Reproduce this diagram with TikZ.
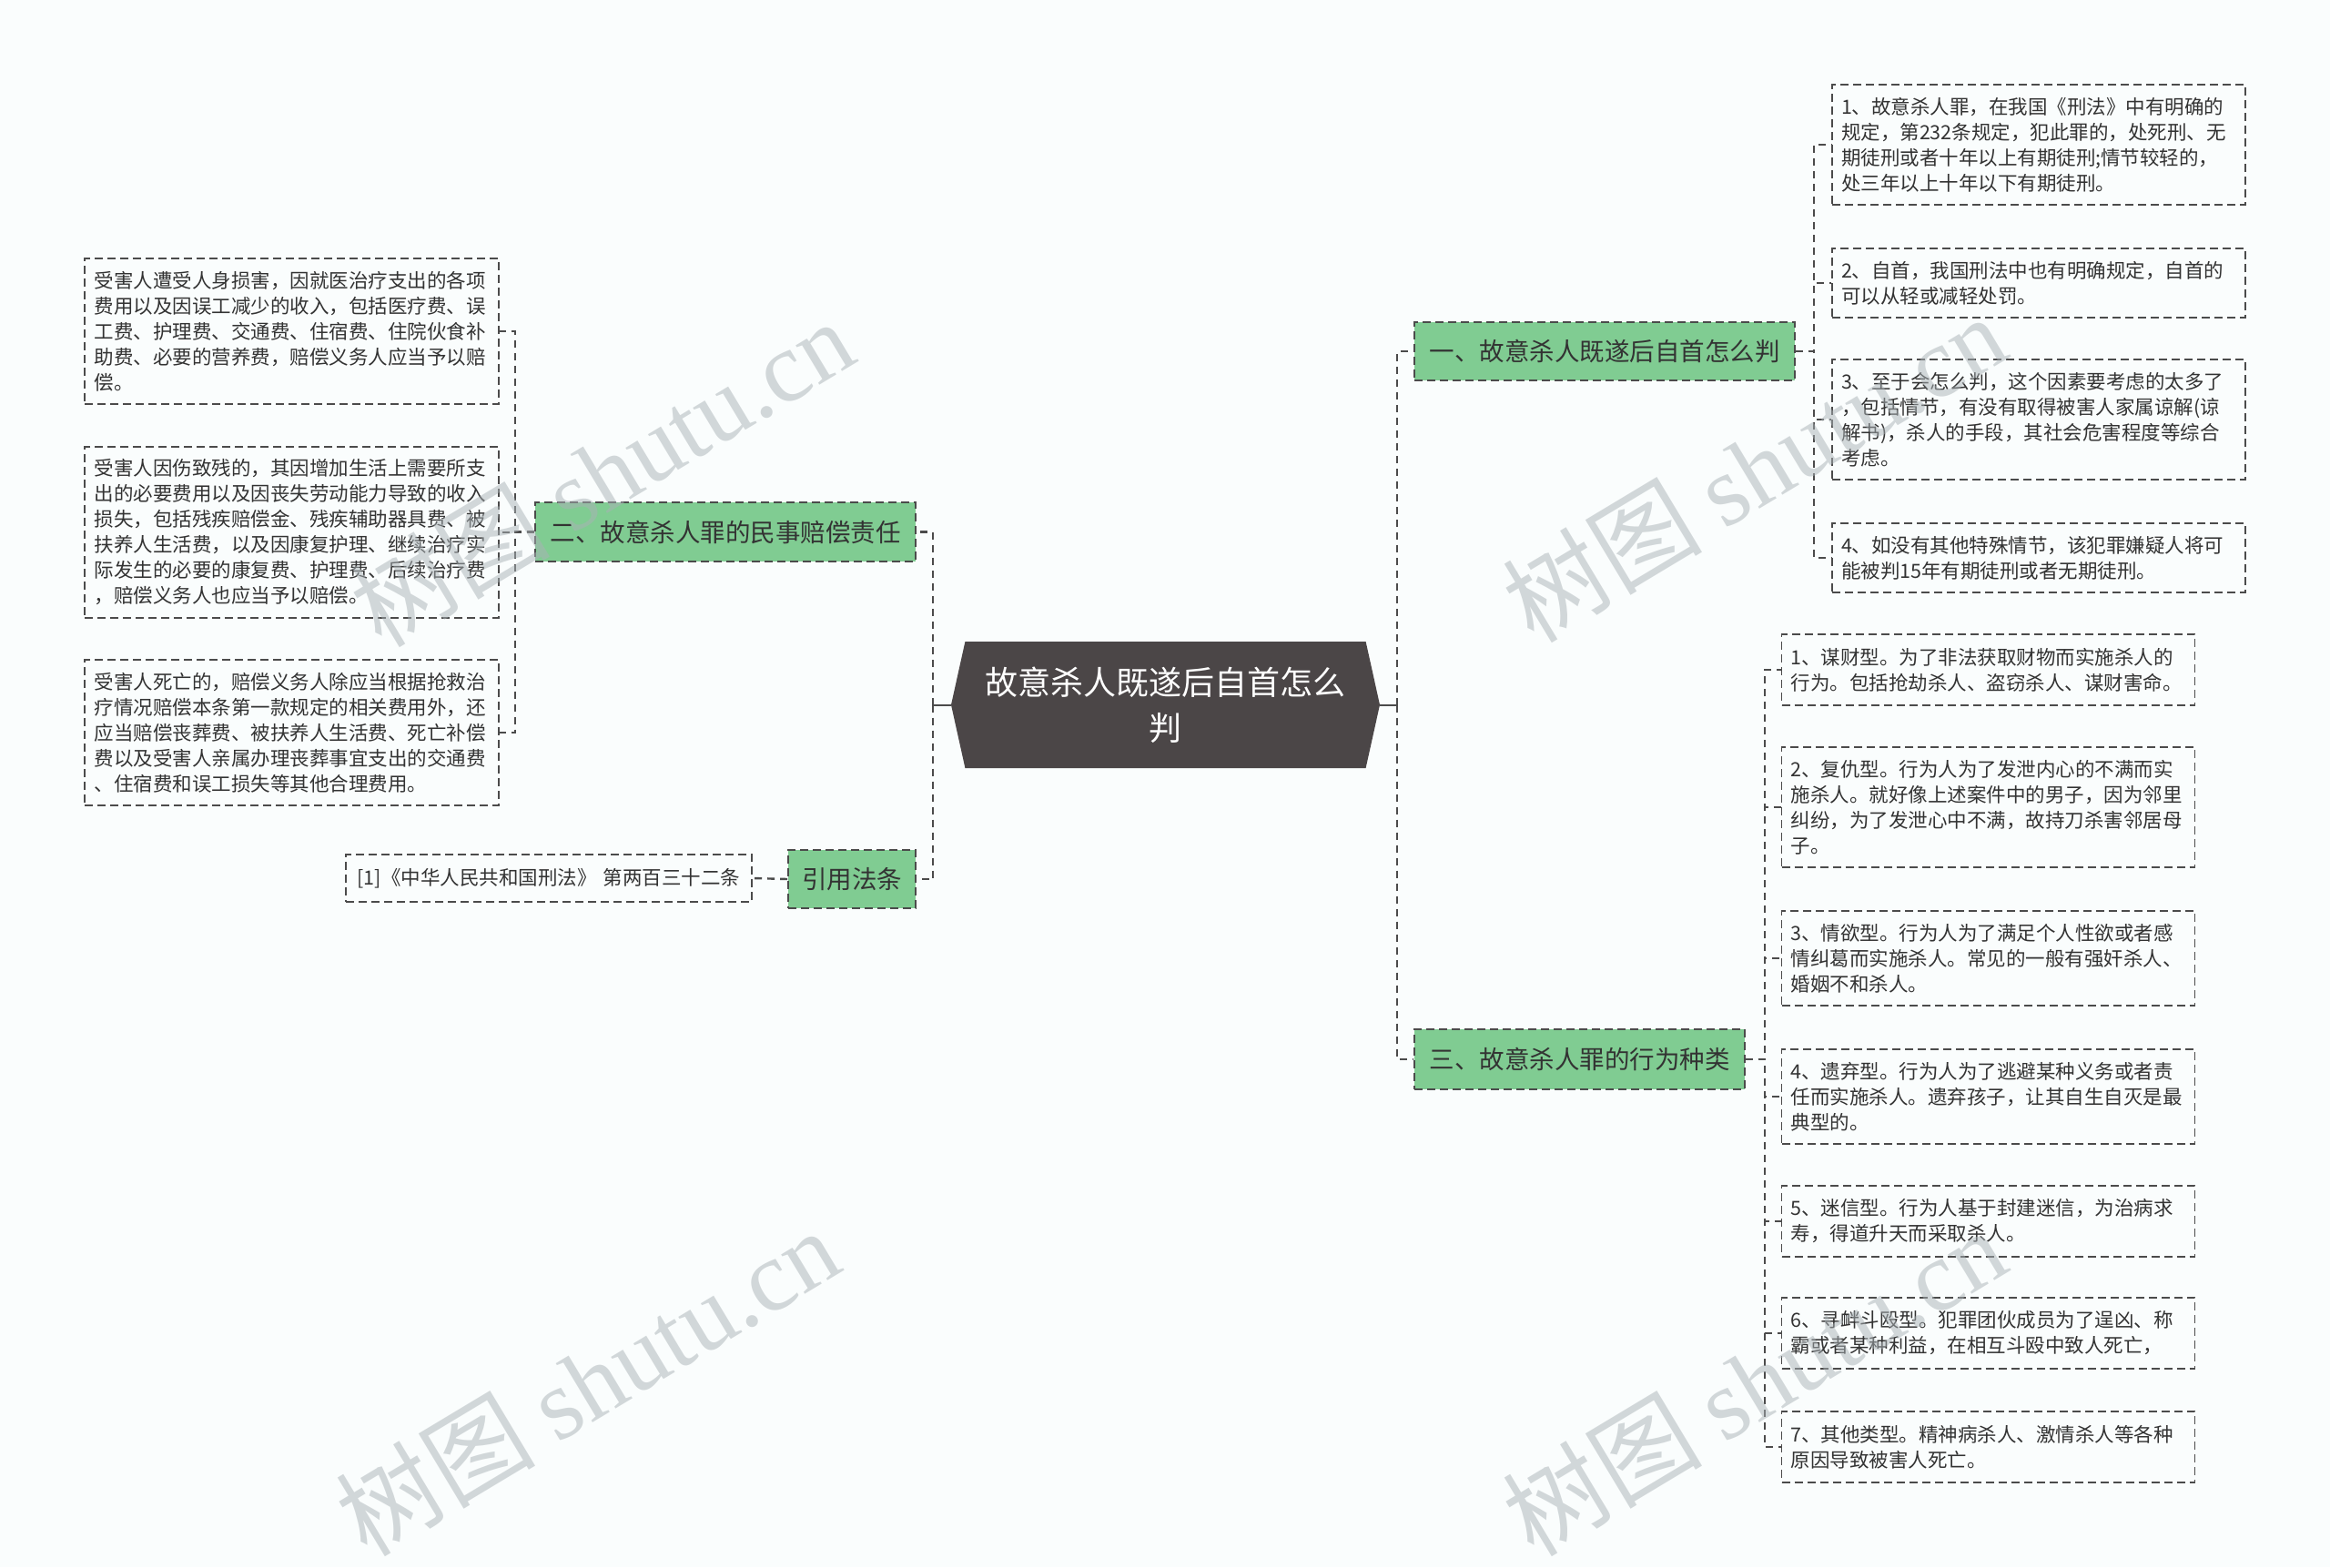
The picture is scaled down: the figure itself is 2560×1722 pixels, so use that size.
\documentclass[tikz,border=0pt]{standalone}
\usepackage{fontspec}
\setmainfont{Noto Sans CJK SC}
\newfontfamily\wmlatin{Liberation Serif}
\usetikzlibrary{shapes.symbols}
\definecolor{bgc}{RGB}{250,253,253}
\definecolor{greenc}{RGB}{128,204,146}
\definecolor{hexc}{RGB}{75,70,71}
\definecolor{linec}{RGB}{75,75,75}
\definecolor{txtc}{RGB}{51,51,51}
\definecolor{wmc}{RGB}{170,178,182}
\begin{document}
\begin{tikzpicture}[x=1pt,y=-1pt,
  conn/.style={draw=linec,line width=2.4pt,dash pattern=on 8pt off 6pt},
  solidconn/.style={draw=linec,line width=2pt},
  leaf/.style={draw=linec,line width=1.6pt,dash pattern=on 9pt off 5pt,text=txtc,
    font=\fontsize{21.5}{28}\selectfont,align=left,text width=434pt,inner xsep=10pt,inner ysep=0pt},
  branch/.style={draw=linec,fill=greenc,line width=1.6pt,dash pattern=on 9pt off 5pt,text=txtc,
    font=\fontsize{27.5}{33}\selectfont,inner sep=0pt},
  wm/.style={rotate=31,text=wmc,text opacity=0.5,font=\fontsize{110}{120}\selectfont,inner sep=0pt}
]
\fill[bgc] (0,0) rectangle (2560,1722);
\useasboundingbox (0,0) rectangle (2560,1722);

% root
\node[signal,signal to=east and west,signal pointer angle=155,fill=hexc,text=white,
  font=\fontsize{36}{50}\selectfont,align=center,minimum width=471pt,minimum height=139pt,inner sep=0pt]
  (root) at (1280.5,774.5) {故意杀人既遂后自首怎么\\判};

% branches
\node[branch,minimum width=418pt,minimum height=64pt] (G1) at (1763,386) {一、故意杀人既遂后自首怎么判};
\node[branch,minimum width=418pt,minimum height=65pt] (G2) at (797,584.5) {二、故意杀人罪的民事赔偿责任};
\node[branch,minimum width=363pt,minimum height=66pt] (G3) at (1735.5,1164) {三、故意杀人罪的行为种类};
\node[branch,minimum width=140pt,minimum height=64pt] (Gc) at (936,966) {引用法条};

% left leaves
\node[leaf,minimum width=455pt,minimum height=160pt] (L1) at (320.5,364) {受害人遭受人身损害，因就医治疗支出的各项\\费用以及因误工减少的收入，包括医疗费、误\\工费、护理费、交通费、住宿费、住院伙食补\\助费、必要的营养费，赔偿义务人应当予以赔\\偿。};
\node[leaf,minimum width=455pt,minimum height=188pt] (L2) at (320.5,585) {受害人因伤致残的，其因增加生活上需要所支\\出的必要费用以及因丧失劳动能力导致的收入\\损失，包括残疾赔偿金、残疾辅助器具费、被\\扶养人生活费，以及因康复护理、继续治疗实\\际发生的必要的康复费、护理费、后续治疗费\\，赔偿义务人也应当予以赔偿。};
\node[leaf,minimum width=455pt,minimum height=160pt] (L3) at (320.5,805) {受害人死亡的，赔偿义务人除应当根据抢救治\\疗情况赔偿本条第一款规定的相关费用外，还\\应当赔偿丧葬费、被扶养人生活费、死亡补偿\\费以及受害人亲属办理丧葬事宜支出的交通费\\、住宿费和误工损失等其他合理费用。};
\node[leaf,text width=426pt,align=center,inner xsep=10pt,minimum width=446pt,minimum height=52pt] (cite) at (603,965) {[1]《中华人民共和国刑法》 第两百三十二条};

% right leaves of G1
\node[leaf,minimum width=454pt,minimum height=132pt] (R1) at (2240,159) {1、故意杀人罪，在我国《刑法》中有明确的\\规定，第232条规定，犯此罪的，处死刑、无\\期徒刑或者十年以上有期徒刑;情节较轻的，\\处三年以上十年以下有期徒刑。};
\node[leaf,minimum width=454pt,minimum height=76pt] (R2) at (2240,311) {2、自首，我国刑法中也有明确规定，自首的\\可以从轻或减轻处罚。};
\node[leaf,minimum width=454pt,minimum height=132pt] (R3) at (2240,461) {3、至于会怎么判，这个因素要考虑的太多了\\，包括情节，有没有取得被害人家属谅解(谅\\解书)，杀人的手段，其社会危害程度等综合\\考虑。};
\node[leaf,minimum width=454pt,minimum height=76pt] (R4) at (2240,613) {4、如没有其他特殊情节，该犯罪嫌疑人将可\\能被判15年有期徒刑或者无期徒刑。};

% right leaves of G3
\node[leaf,minimum width=453pt,minimum height=78pt] (T1) at (2184.5,736) {1、谋财型。为了非法获取财物而实施杀人的\\行为。包括抢劫杀人、盗窃杀人、谋财害命。};
\node[leaf,minimum width=453pt,minimum height=132pt] (T2) at (2184.5,887) {2、复仇型。行为人为了发泄内心的不满而实\\施杀人。就好像上述案件中的男子，因为邻里\\纠纷，为了发泄心中不满，故持刀杀害邻居母\\子。};
\node[leaf,minimum width=453pt,minimum height=104pt] (T3) at (2184.5,1053) {3、情欲型。行为人为了满足个人性欲或者感\\情纠葛而实施杀人。常见的一般有强奸杀人、\\婚姻不和杀人。};
\node[leaf,minimum width=453pt,minimum height=104pt] (T4) at (2184.5,1205) {4、遗弃型。行为人为了逃避某种义务或者责\\任而实施杀人。遗弃孩子，让其自生自灭是最\\典型的。};
\node[leaf,minimum width=453pt,minimum height=78pt] (T5) at (2184.5,1342) {5、迷信型。行为人基于封建迷信，为治病求\\寿，得道升天而采取杀人。};
\node[leaf,minimum width=453pt,minimum height=78pt] (T6) at (2184.5,1465) {6、寻衅斗殴型。犯罪团伙成员为了逞凶、称\\霸或者某种利益，在相互斗殴中致人死亡，};
\node[leaf,minimum width=453pt,minimum height=78pt] (T7) at (2184.5,1590) {7、其他类型。精神病杀人、激情杀人等各种\\原因导致被害人死亡。};

% connectors from root
\coordinate (jL) at (1025,774.5);
\coordinate (jR) at (1535,774.5);
\draw[solidconn] (root.west) -- (jL);
\draw[solidconn] (root.east) -- (jR);
\draw[conn] (jL) |- (G2.east);
\draw[conn] (jL) |- (Gc.east);
\draw[conn] (jR) |- (G1.west);
\draw[conn] (jR) |- (G3.west);

% G2 children
\foreach \c in {L1,L2,L3} \draw[conn] (G2.west) -- ++(-21,0) |- (\c.east);
\draw[conn] (Gc.west) -- (cite.east);
% G1 children
\foreach \c in {R1,R2,R3,R4} \draw[conn] (G1.east) -- ++(20,0) |- (\c.west);
% G3 children
\foreach \c in {T1,T2,T3,T4,T5,T6,T7} \draw[conn] (G3.east) -- ++(21,0) |- (\c.west);

% watermarks
\node[wm] (wm1) at (661,519) {树图 {\wmlatin shutu.cn}};
\node[wm] (wm2) at (1927,514) {树图 {\wmlatin shutu.cn}};
\node[wm] (wm3) at (645,1518) {树图 {\wmlatin shutu.cn}};
\node[wm] (wm4) at (1927,1518) {树图 {\wmlatin shutu.cn}};
\end{tikzpicture}
\end{document}
